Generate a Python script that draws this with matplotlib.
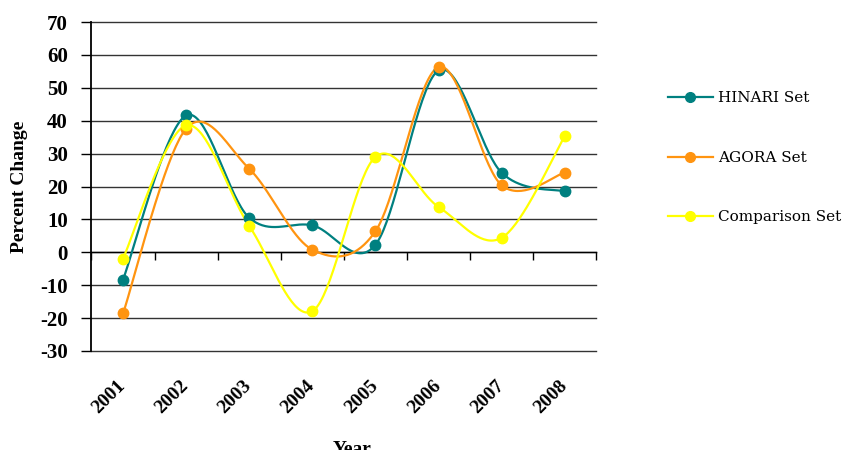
import numpy as np
import matplotlib.pyplot as plt

years = ['2001', '2002', '2003', '2004', '2005', '2006', '2007', '2008']
hinari = [-8.3, 41.6, 10.5, 8.2, 2.3, 55.3, 24.2, 18.5]
agora = [-18.6, 37.6, 25.4, 0.8, 6.4, 56.3, 20.4, 24.2]
comparison = [-1.9, 38.6, 8.0, -17.9, 29.0, 13.8, 4.4, 35.3]

series = [('HINARI Set', hinari, '#008080'),
          ('AGORA Set', agora, '#FF9410'),
          ('Comparison Set', comparison, '#FFFF00')]

plt.rcParams['font.family'] = ['Liberation Serif', 'DejaVu Serif']
plt.rcParams['axes.unicode_minus'] = False


def smooth(x, y, n=40):
    # bezier smoothing through each point (control points from neighbours, 1/6)
    P = np.column_stack([np.asarray(x, float), np.asarray(y, float)])
    out = []
    for i in range(len(P) - 1):
        p0 = P[i - 1] if i > 0 else P[i]
        p1 = P[i]
        p2 = P[i + 1]
        p3 = P[i + 2] if i + 2 < len(P) else P[i + 1]
        c1 = p1 + (p2 - p0) / 6
        c2 = p2 - (p3 - p1) / 6
        t = np.linspace(0, 1, n)[:, None]
        seg = ((1 - t) ** 3) * p1 + 3 * ((1 - t) ** 2) * t * c1 + 3 * (1 - t) * t ** 2 * c2 + t ** 3 * p2
        out.append(seg if i == 0 else seg[1:])
    out = np.vstack(out)
    return out[:, 0], out[:, 1]


fig = plt.figure(figsize=(8.47, 4.5), dpi=100)
ax = fig.add_axes([0.108, 0.22, 0.596, 0.731])

xs = np.arange(len(years))
for name, vals, col in series:
    sx, sy = smooth(xs, vals)
    ax.plot(sx, sy, color=col, lw=1.6, zorder=3)
    ax.plot(xs, vals, 'o', color=col, ms=7.5, zorder=4)
    # legend handle
    ax.plot([], [], '-o', color=col, lw=1.6, ms=7, label=name)

ax.set_xlim(-0.5, len(years) - 0.5)
ax.set_ylim(-30, 70)
ax.set_yticks(np.arange(-30, 71, 10))
ax.yaxis.grid(True, color='#333333', lw=1.0)
for gl in ax.get_ygridlines():
    gl.set_clip_on(False)
ax.set_axisbelow(True)
for lab in ax.get_yticklabels():
    lab.set_fontweight('bold')
ax.tick_params(axis='y', labelsize=15, length=7, width=1, color='black', pad=10)

# category axis crosses at zero, ticks between categories
ax.spines['bottom'].set_position(('data', 0))
ax.spines['bottom'].set_linewidth(1.0)
ax.spines['top'].set_visible(False)
ax.spines['right'].set_visible(False)
ax.spines['left'].set_linewidth(1.3)
ax.set_xticks(np.arange(-0.5, len(years), 1.0))
ax.set_xticklabels([])
ax.tick_params(axis='x', length=6, width=1, direction='out', color='black')

for i, yr in enumerate(years):
    ax.text(i - 0.1, -0.08, yr, transform=ax.get_xaxis_transform(),
            rotation=45, ha='right', va='top', rotation_mode='anchor',
            fontsize=14, fontweight='bold')

ax.set_ylabel('Percent Change', fontsize=14, fontweight='bold')
ax.yaxis.set_label_coords(-0.125, 0.5)
fig.text(0.416, 0.02, 'Year', ha='center', va='top', fontsize=14, fontweight='bold')

fig.legend(loc='upper left', bbox_to_anchor=(0.789, 0.797), frameon=False,
           prop={'family': 'DejaVu Serif', 'size': 11}, labelspacing=2.98,
           handlelength=2.9, handletextpad=0.35, borderaxespad=0, borderpad=0)

fig.savefig('out.png', dpi=100)
